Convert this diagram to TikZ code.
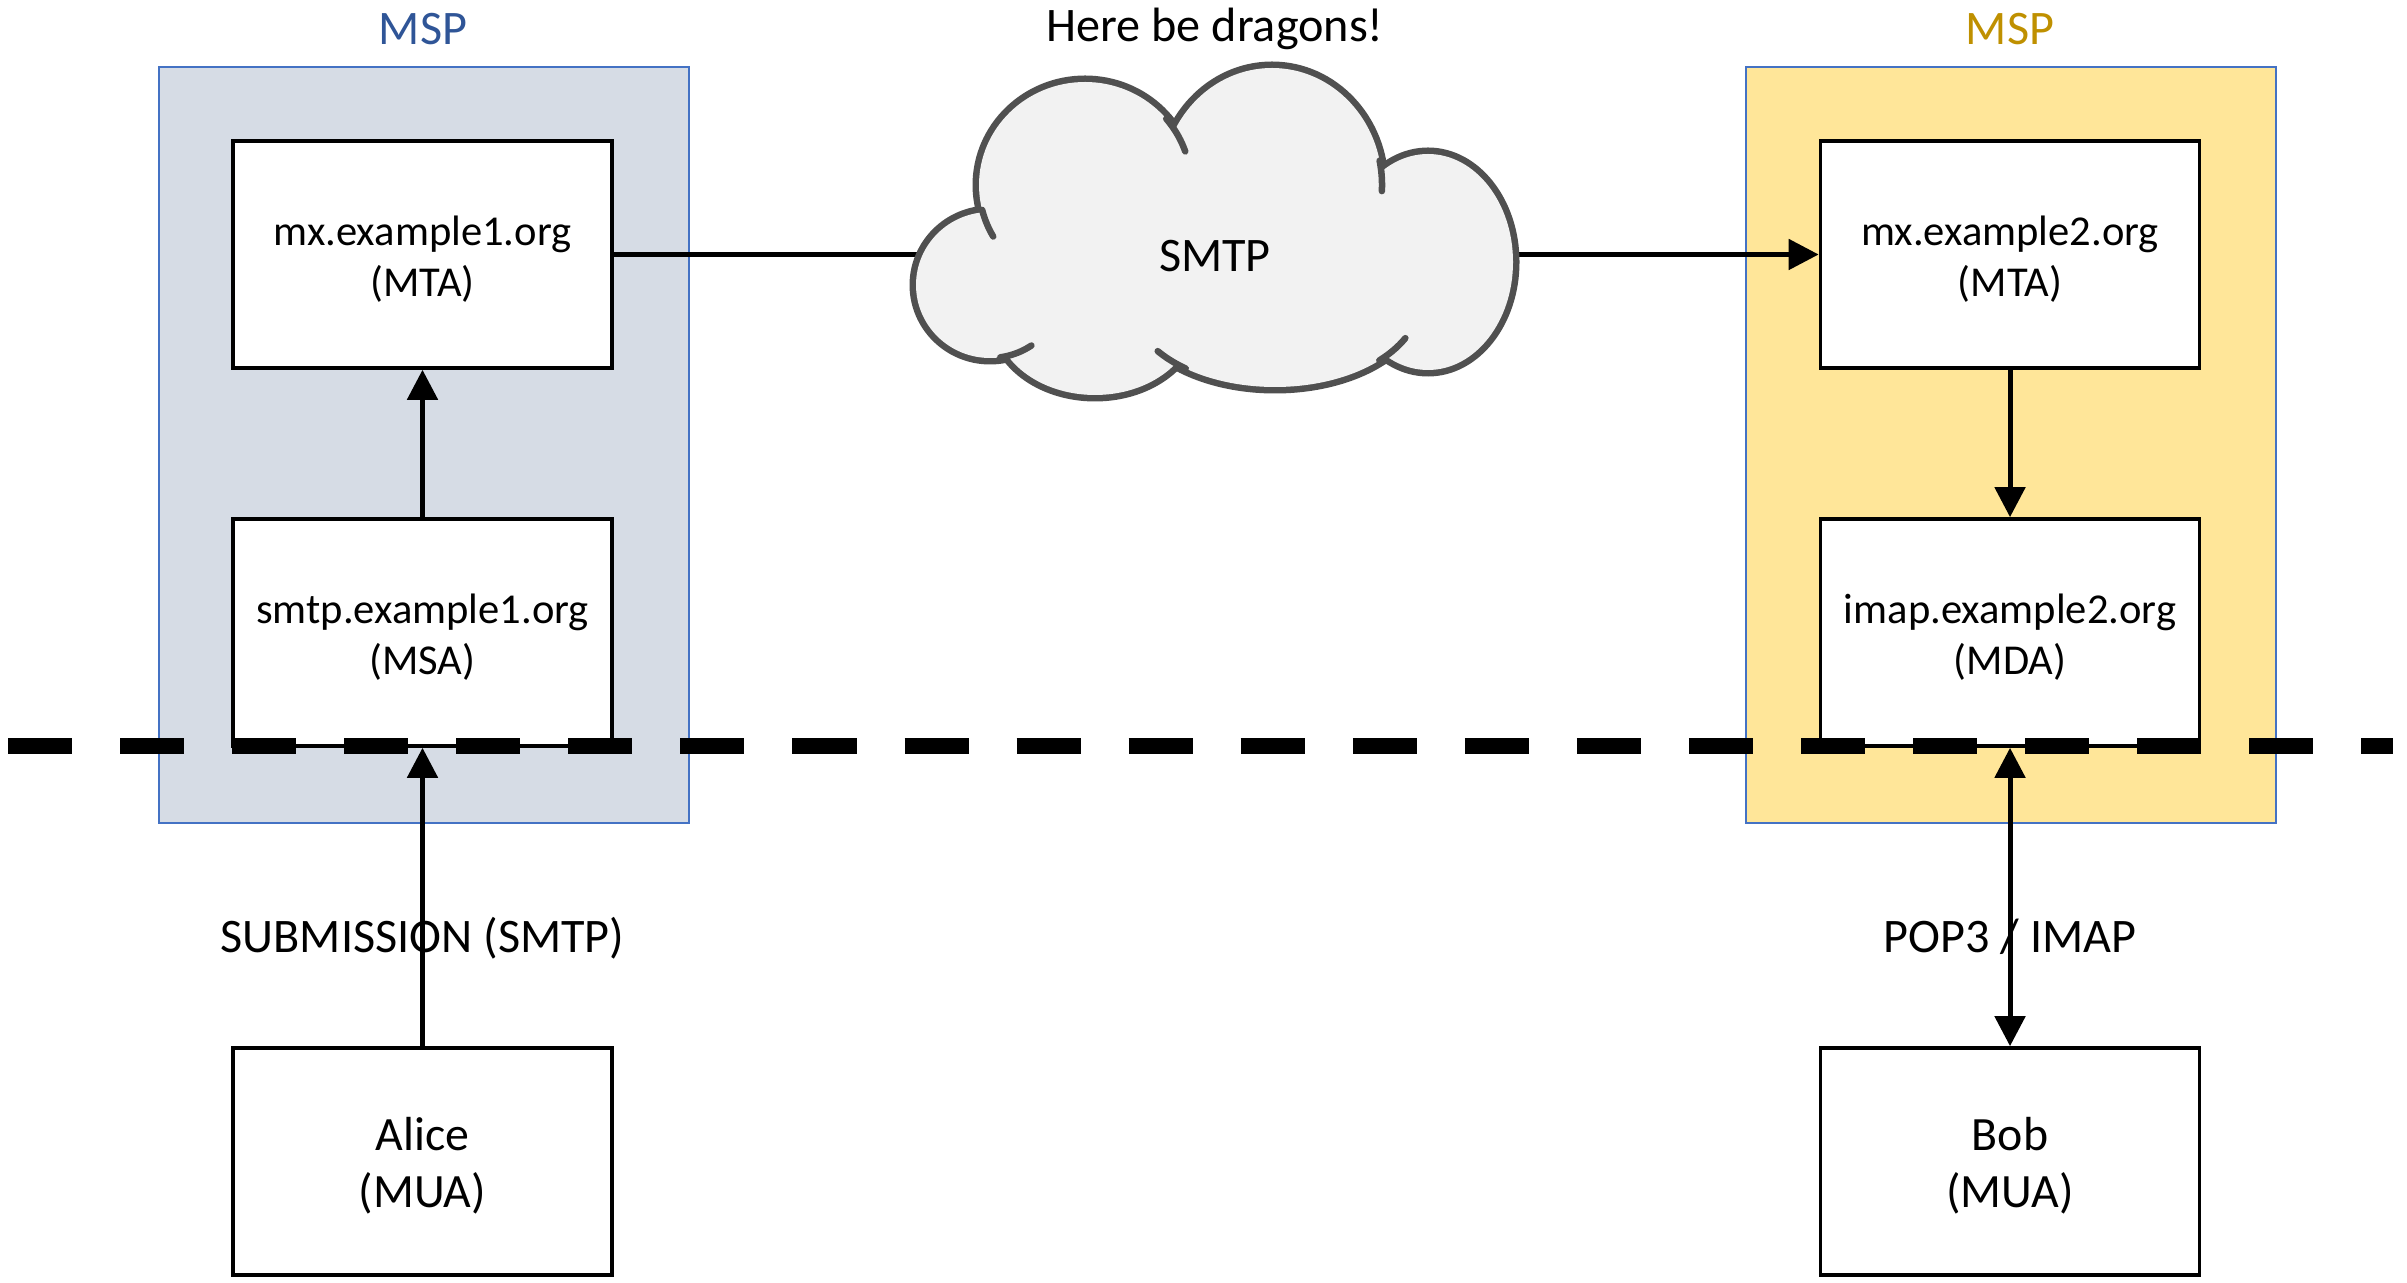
\documentclass[tikz,border=0pt]{standalone}
\usepackage{fontspec}
\setmainfont{Carlito}
\usetikzlibrary{arrows.meta}

\definecolor{mspblue}{HTML}{D6DCE5}
\definecolor{mspgold}{HTML}{FFE699}
\definecolor{mspedge}{HTML}{4472C4}
\definecolor{mspbluetxt}{HTML}{2F5597}
\definecolor{mspgoldtxt}{HTML}{BF9000}
\definecolor{cloudfill}{HTML}{F2F2F2}
\definecolor{cloudedge}{HTML}{505050}

\tikzset{
  mspbox/.style={draw=mspedge, line width=0.02cm, minimum width=5.3cm,
    minimum height=7.56cm, inner sep=0pt, anchor=north west},
  box/.style={draw, line width=0.035cm, fill=white, minimum width=3.79cm,
    minimum height=2.27cm, inner sep=0pt},
  servertext/.style={align=center, inner sep=0pt,
    font=\fontsize{12.1}{14.5}\selectfont, yshift=-0.05cm},
  clienttext/.style={align=center, inner sep=0pt,
    font=\fontsize{13.6}{16.3}\selectfont, yshift=-0.04cm},
  server/.style={box, label={[servertext]center:#1}},
  client/.style={box, label={[clienttext]center:#1}},
  lbl/.style={font=\fontsize{13.7}{16}\selectfont, anchor=base, inner sep=0pt},
  link/.style={line width=0.05cm},
  arr/.style={link, -{Triangle[width=0.3cm,length=0.3cm]}},
  biarr/.style={link, {Triangle[width=0.3cm,length=0.3cm]}-{Triangle[width=0.3cm,length=0.3cm]}},
  divider/.style={line width=0.16cm, dash pattern=on 0.64cm off 0.48cm},
}

\begin{document}
\begin{tikzpicture}[x=0.01cm, y=-0.01cm]
\useasboundingbox (0,0) rectangle (2407,1283);

% mail service providers
\node[mspbox, fill=mspblue] (msp1) at (158,66) {};
\node[mspbox, fill=mspgold] (msp2) at (1745,66) {};
\node[lbl, text=mspbluetxt] (msp1lbl) at (423,45) {MSP};
\node[lbl, text=mspgoldtxt] (msp2lbl) at (2010,45) {MSP};

% servers and clients
\node[server={mx.example1.org\\(MTA)}]   (mta1)  at (422.5,254.5)  {};
\node[server={smtp.example1.org\\(MSA)}] (msa)   at (422.5,632.5)  {};
\node[client={Alice\\(MUA)}]             (alice) at (422.5,1161.5) {};
\node[server={mx.example2.org\\(MTA)}]   (mta2)  at (2010,254.5)   {};
\node[server={imap.example2.org\\(MDA)}] (mda)   at (2010,632.5)   {};
\node[client={Bob\\(MUA)}]               (bob)   at (2010,1161.5)  {};

% links into and out of the internet
\coordinate (cloudW) at (930,256);
\coordinate (cloudE) at (1500,256);
\draw[link] (mta1.east) -- (mta1.east -| cloudW);
\draw[arr] (mta2.west -| cloudE) -- (mta2.west);

% the internet cloud: lobes stroked, then filled to hide inner strokes
\begin{scope}
  \foreach \cx/\cy/\rx/\ry in {990/285/74/73, 1085/185/106/103, 1272/185/110/117,
                               1428/262/85/108, 1275/300/145/87, 1095/318/100/77}
    \draw[cloudedge, line width=0.13cm] (\cx,\cy) ellipse [x radius=\rx, y radius=\ry];
  \foreach \cx/\cy/\rx/\ry in {990/285/74/73, 1085/185/106/103, 1272/185/110/117,
                               1428/262/85/108, 1275/300/145/87, 1095/318/100/77}
    \fill[cloudfill] (\cx,\cy) ellipse [x radius=\rx, y radius=\ry];
  \fill[cloudfill] (1215,260) ellipse [x radius=200, y radius=90];
  % inner hooks where lobes meet
  \foreach \cx/\cy/\rx/\ry/\a/\b in {1085/185/106/103/150/166, 1085/185/106/103/-40/-19,
                                     1272/185/110/117/-12/3, 1275/300/145/87/26/44,
                                     1275/300/145/87/128/144, 990/285/74/73/56/82}
    \draw[cloudedge, line width=0.065cm, line cap=round]
      plot[domain=\a:\b, samples=24, variable=\t] ({\cx+\rx*cos(\t)}, {\cy+\ry*sin(\t)});
\end{scope}
\node[lbl] (cloud) at (1215,272) {SMTP};
\node[lbl] (dragons) at (1215,42) {Here be dragons!};

% message flow
\draw[arr] (msa) -- (mta1);
\draw[arr] (alice) -- (msa);
\draw[arr] (mta2) -- (mda);
\draw[biarr] (bob) -- (mda);
\node[lbl] (sublbl) at (422.5,952) {SUBMISSION (SMTP)};
\node[lbl] (poplbl) at (2010,952) {POP3 / IMAP};

% boundary between users and providers
\coordinate (divL) at (8,746);
\coordinate (divR) at (2393,746);
\draw[divider] (divL) -- (divR);
\end{tikzpicture}
\end{document}
